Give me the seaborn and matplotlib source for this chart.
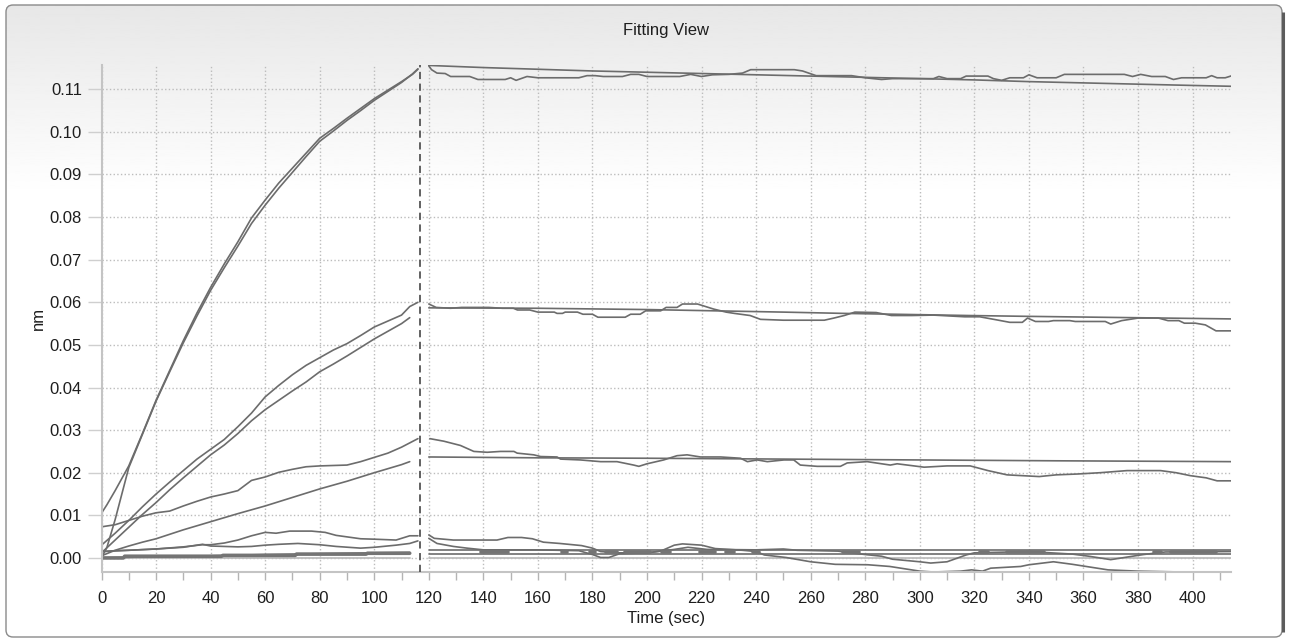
import numpy as np
import pandas as pd
import matplotlib
matplotlib.use("Agg")
import matplotlib.pyplot as plt
import seaborn as sns
from matplotlib.patches import FancyBboxPatch
from matplotlib.ticker import MultipleLocator, FormatStrFormatter

sns.set_theme(style="white")
plt.rcParams["font.family"] = ["Liberation Sans", "DejaVu Sans"]

# ---------------- data ----------------
step_boundary = 116.7  # association / dissociation switch (sec)

# association phase
t_top = [0, 2, 5, 10, 15, 20, 25, 30, 35, 40, 45, 50, 55, 60, 65, 70, 75, 80, 85, 90, 95, 100, 105, 110, 114, 116]
top_fit = [0.0105, 0.0125, 0.0158, 0.0216, 0.0292, 0.0370, 0.0440, 0.0510, 0.0575, 0.0635, 0.0690, 0.0742, 0.0798,
           0.0840, 0.0880, 0.0915, 0.0950, 0.0985, 0.1008, 0.1032, 0.1055, 0.1078, 0.1098, 0.1118, 0.1135, 0.1147]
top_data = [0.0, 0.0025, 0.0090, 0.0212, 0.0290, 0.0368, 0.0437, 0.0505, 0.0568, 0.0628, 0.0681, 0.0732, 0.0785,
            0.0828, 0.0868, 0.0905, 0.0942, 0.0978, 0.1002, 0.1027, 0.1050, 0.1074, 0.1095, 0.1116, 0.1136, 0.1148]

t_mid = [0, 5, 10, 15, 20, 25, 30, 35, 40, 45, 50, 55, 60, 65, 70, 75, 80, 85, 90, 95, 100, 105, 110, 113, 116]
mid_data = [0.0030, 0.0058, 0.0088, 0.0120, 0.0150, 0.0178, 0.0205, 0.0232, 0.0255, 0.0278, 0.0308, 0.0340, 0.0378,
            0.0405, 0.0430, 0.0452, 0.0470, 0.0488, 0.0503, 0.0522, 0.0542, 0.0556, 0.0570, 0.0590, 0.0600]
t_mid_fit = [0, 5, 10, 15, 20, 25, 30, 35, 40, 45, 50, 55, 60, 65, 70, 75, 80, 85, 90, 95, 100, 105, 110, 113]
mid_fit = [0.0012, 0.0042, 0.0072, 0.0102, 0.0130, 0.0160, 0.0188, 0.0215, 0.0242, 0.0265, 0.0292, 0.0322, 0.0348,
           0.0370, 0.0392, 0.0413, 0.0437, 0.0455, 0.0474, 0.0494, 0.0514, 0.0532, 0.0550, 0.0564]

low3_data = [0.0073, 0.0078, 0.0088, 0.0098, 0.0106, 0.0110, 0.0122, 0.0133, 0.0143, 0.0150, 0.0158, 0.0182, 0.0190,
             0.0201, 0.0208, 0.0214, 0.0216, 0.0217, 0.0218, 0.0226, 0.0236, 0.0246, 0.0260, 0.0270, 0.0280]
t_low3_fit = [0, 5, 10, 15, 20, 30, 40, 50, 60, 70, 80, 90, 100, 110, 113]
low3_fit = [0.0005, 0.0018, 0.0028, 0.0037, 0.0045, 0.0066, 0.0085, 0.0104, 0.0122, 0.0142, 0.0162, 0.0180, 0.0200,
            0.0219, 0.0226]

t_c4 = [0, 5, 10, 20, 30, 37, 40, 45, 50, 55, 60, 64, 69, 77, 82, 86, 95, 100, 108, 113, 116]
c4_data = [0.0015, 0.0017, 0.0018, 0.0021, 0.0026, 0.0031, 0.0031, 0.0035, 0.0042, 0.0052, 0.0060, 0.0058, 0.0063,
           0.0063, 0.0060, 0.0053, 0.0045, 0.0044, 0.0042, 0.0052, 0.0052]
t_c5 = [0, 10, 20, 30, 37, 40, 50, 55, 60, 65, 72, 80, 86, 95, 100, 108, 113, 116]
c5_data = [0.0015, 0.0018, 0.0021, 0.0025, 0.0032, 0.0028, 0.0026, 0.0027, 0.0030, 0.0032, 0.0034, 0.0031, 0.0027,
           0.0023, 0.0025, 0.0030, 0.0034, 0.0040]

t_flat_fit = [0, 20, 40, 60, 80, 100, 113]
flat_fit = [0.0, 0.0003, 0.0005, 0.0008, 0.0010, 0.0012, 0.0013]
t_flat_data = [0, 8, 8.5, 44, 44.5, 71, 71.5, 97, 97.5, 113]
flat_data = [0.0, 0.0, 0.0004, 0.0004, 0.0006, 0.0006, 0.0009, 0.0009, 0.0011, 0.0011]
t_zero_a = [0, 113]
zero_a = [0.0, 0.0]

# dissociation phase
t_d1_fit = [120, 140, 160, 180, 200, 220, 240, 260, 280, 300, 320, 340, 360, 380, 400, 414.5]
d1_fit = [0.1156, 0.1151, 0.1147, 0.1143, 0.1140, 0.1137, 0.1134, 0.1131, 0.1128, 0.1125, 0.1122, 0.1118, 0.1115,
          0.1112, 0.1109, 0.1107]
t_d1 = [120, 121, 123, 126, 128, 135, 138, 148, 150, 152, 156, 160, 175, 178, 181, 184, 191, 194, 197, 200, 212, 216,
        220, 224, 230, 235, 238, 254, 257, 262, 275, 280, 286, 290, 305, 307, 310, 315, 317, 325, 327, 330, 333, 338,
        340, 343, 350, 353, 375, 378, 381, 385, 390, 393, 396, 405, 407, 409, 412, 414.5]
d1_data = [0.1155, 0.1146, 0.1138, 0.1137, 0.1130, 0.1130, 0.1123, 0.1123, 0.1127, 0.1121, 0.1130, 0.1127, 0.1127,
           0.1132, 0.1132, 0.1130, 0.1130, 0.1135, 0.1135, 0.1130, 0.1130, 0.1135, 0.1130, 0.1134, 0.1135, 0.1138,
           0.1146, 0.1146, 0.1143, 0.1132, 0.1132, 0.1127, 0.1123, 0.1125, 0.1125, 0.1130, 0.1125, 0.1125, 0.1131,
           0.1131, 0.1125, 0.1121, 0.1127, 0.1127, 0.1134, 0.1127, 0.1127, 0.1135, 0.1135, 0.1130, 0.1135, 0.1130,
           0.1130, 0.1123, 0.1127, 0.1127, 0.1132, 0.1127, 0.1127, 0.1132]

t_d2_fit = [120, 160, 200, 225, 250, 272, 300, 318, 340, 365, 390, 414.5]
d2_fit = [0.0587, 0.0586, 0.0583, 0.0580, 0.0577, 0.0574, 0.0571, 0.0569, 0.0567, 0.0565, 0.0563, 0.0561]
t_d2 = [120, 122.7, 128, 132, 142, 147, 151, 152.5, 157, 160, 166, 167, 169, 170, 174.5, 176.5, 180, 182, 192, 194,
        197.5, 199.5, 205, 207, 211, 213, 218.5, 220.5, 224.5, 229, 232, 237.8, 241.6, 250, 265, 268.5, 272.3, 276.2,
        284, 289.6, 297, 305, 316.5, 322, 328, 333, 337.6, 339.5, 342.4, 347.2, 349, 355, 357, 368, 370, 374, 380,
        387.5, 391, 395, 397, 401, 404.7, 408.6, 414.5]
d2_data = [0.0596, 0.0588, 0.0586, 0.0588, 0.0588, 0.0586, 0.0586, 0.0582, 0.0582, 0.0577, 0.0577, 0.0574, 0.0574,
           0.0577, 0.0577, 0.0572, 0.0572, 0.0565, 0.0565, 0.0572, 0.0572, 0.0580, 0.0580, 0.0588, 0.0588, 0.0596,
           0.0596, 0.0592, 0.0584, 0.0577, 0.0574, 0.0569, 0.0560, 0.0558, 0.0558, 0.0563, 0.0569, 0.0577, 0.0576,
           0.0569, 0.0569, 0.0570, 0.0566, 0.0566, 0.0559, 0.0553, 0.0553, 0.0563, 0.0555, 0.0555, 0.0557, 0.0557,
           0.0555, 0.0555, 0.0549, 0.0557, 0.0563, 0.0563, 0.0557, 0.0557, 0.0551, 0.0551, 0.0547, 0.0533, 0.0533]

t_d3_fit = [120, 160, 200, 250, 300, 350, 414.5]
d3_fit = [0.0237, 0.0235, 0.0234, 0.0232, 0.0230, 0.0228, 0.0226]
t_d3 = [120.4, 125.5, 131.6, 136.5, 141.4, 146.3, 151.2, 152.4, 158.5, 161, 167, 168.3, 175.6, 183, 189, 195.1, 197,
        200, 206.1, 211, 214.7, 219.6, 227, 234.3, 236.8, 240.4, 244.1, 250.2, 253.8, 256.2, 262.4, 270.9, 273.4,
        280.7, 289.2, 291.7, 301.6, 310, 318.5, 325, 332, 343.8, 350, 357.8, 366, 376, 388.3, 394, 399.3, 405, 409,
        414.5]
d3_data = [0.0280, 0.0274, 0.0264, 0.0250, 0.0248, 0.0250, 0.0250, 0.0246, 0.0242, 0.0238, 0.0237, 0.0232, 0.0230,
           0.0226, 0.0226, 0.0218, 0.0215, 0.0221, 0.0230, 0.0240, 0.0242, 0.0237, 0.0237, 0.0234, 0.0226, 0.0230,
           0.0226, 0.0230, 0.0230, 0.0218, 0.0215, 0.0215, 0.0223, 0.0226, 0.0218, 0.0221, 0.0213, 0.0216, 0.0216,
           0.0205, 0.0195, 0.0191, 0.0195, 0.0197, 0.0200, 0.0205, 0.0205, 0.0200, 0.0193, 0.0188, 0.0181, 0.0181]

t_d4 = [120, 122, 129, 145, 149, 154, 158, 162, 168, 176, 180, 183, 190, 200, 205, 210, 213, 220, 225, 235, 240, 243,
        251, 260, 269, 281, 289, 300, 305, 315, 319, 323, 326, 337, 340, 349, 356, 361, 369, 380, 396, 403]
d4_data = [0.0054, 0.0046, 0.0042, 0.0042, 0.0048, 0.0048, 0.0045, 0.0037, 0.0034, 0.0029, 0.0023, 0.0015, 0.0012,
           0.0012, 0.0016, 0.0030, 0.0033, 0.0030, 0.0022, 0.0018, 0.0015, 0.0007, 0.0001, -0.0009, -0.0015, -0.0016,
           -0.0020, -0.0031, -0.0033, -0.0031, -0.0028, -0.0031, -0.0024, -0.0020, -0.0016, -0.0009, -0.0015,
           -0.0020, -0.0028, -0.0031, -0.0033, -0.0034]
t_d5 = [120, 123, 129, 134, 140, 160, 175, 180, 183, 186, 190, 200, 210, 215, 222, 240, 250, 255, 270, 280, 286, 290,
        300, 304, 310, 317, 320, 340, 356, 362, 370, 378, 382, 390, 414.5]
d5_data = [0.0046, 0.0034, 0.0027, 0.0023, 0.0019, 0.0019, 0.0017, 0.0008, 0.0001, 0.0001, 0.0010, 0.0012, 0.0020,
           0.0025, 0.0020, 0.0019, 0.0021, 0.0018, 0.0016, 0.0008, 0.0004, -0.0003, -0.0009, -0.0012, -0.0009, 0.0007,
           0.0012, 0.0015, 0.0009, 0.0004, -0.0004, 0.0004, 0.0008, 0.0014, 0.0015]
t_flat_d = [120, 414.5]
flat_hi_d = [0.0019, 0.0019]
flat_lo_d = [0.0010, 0.0010]
zero_d = [0.0, 0.0]
noise_start = [139, 169, 179, 185, 192, 205.5, 219.6, 229, 239, 272, 322, 332, 386, 392]
noise_end = [149, 170.5, 181, 189, 201, 208.6, 225, 232, 241, 277.6, 325, 345.4, 388.4, 408.5]
noise_level = 0.00145

# ---------------- tables ----------------
def frame(name, t, v):
    return pd.DataFrame({"t": t, "v": v, "curve": name})

thin = pd.concat([
    frame("top_fit", t_top, top_fit), frame("top_data", t_top, top_data),
    frame("mid_data", t_mid, mid_data), frame("mid_fit", t_mid_fit, mid_fit),
    frame("low3_data", t_mid, low3_data), frame("low3_fit", t_low3_fit, low3_fit),
    frame("c4", t_c4, c4_data), frame("c5", t_c5, c5_data),
    frame("flat_fit", t_flat_fit, flat_fit),
    frame("d1_fit", t_d1_fit, d1_fit), frame("d1", t_d1, d1_data),
    frame("d2_fit", t_d2_fit, d2_fit), frame("d2", t_d2, d2_data),
    frame("d3_fit", t_d3_fit, d3_fit), frame("d3", t_d3, d3_data),
    frame("d4", t_d4, d4_data), frame("d5", t_d5, d5_data),
    frame("fhi", t_flat_d, flat_hi_d), frame("flo", t_flat_d, flat_lo_d),
], ignore_index=True)
thick = pd.concat([frame("flat_data", t_flat_data, flat_data)] +
                  [frame(f"nb{i}", [s, e], [noise_level, noise_level])
                   for i, (s, e) in enumerate(zip(noise_start, noise_end))], ignore_index=True)
zeros = pd.concat([frame("z_a", t_zero_a, zero_a), frame("z_d", t_flat_d, zero_d)], ignore_index=True)

# ---------------- figure ----------------
W, H = 1291, 644
fig = plt.figure(figsize=(W / 100, H / 100), dpi=100)
fig.patch.set_facecolor("white")

bg = fig.add_axes([0, 0, 1, 1], zorder=0)
bg.set_xlim(0, W)
bg.set_ylim(H, 0)
bg.axis("off")
box = FancyBboxPatch((6, 5), 1276, 632, boxstyle="round,pad=0,rounding_size=7",
                     facecolor="none", edgecolor="#8a8a8a", lw=1.0, transform=bg.transData, zorder=3)
rows = np.linspace(5, 637, 400)
shade = 1.0 - 0.095 * np.clip(1 - (rows - 5) / 190.0, 0, 1)
im = bg.imshow(shade[:, None], extent=(6, 1282, 637, 5), cmap="gray", vmin=0, vmax=1,
               aspect="auto", interpolation="bilinear", zorder=1)
im.set_clip_path(box)
bg.add_patch(box)
bg.plot([1283.2, 1283.2], [12, 632], color="#5c5c5c", lw=2.2, solid_capstyle="butt", zorder=4)

L, R, T, B = 101.5, 1231, 65, 572
ax = fig.add_axes([L / W, 1 - B / H, (R - L) / W, (B - T) / H], zorder=2)
ax.set_facecolor("none")

LINE = "#6c6c6c"
sns.lineplot(data=zeros, x="t", y="v", units="curve", estimator=None, sort=False,
             color="#bdbdbd", lw=1.3, ax=ax, legend=False)
sns.lineplot(data=thin, x="t", y="v", units="curve", estimator=None, sort=False,
             color=LINE, lw=1.2, ax=ax, legend=False)
sns.lineplot(data=thick, x="t", y="v", units="curve", estimator=None, sort=False,
             color="#747474", lw=2.6, ax=ax, legend=False)
ax.axvline(step_boundary, color="#555555", lw=1.3, ls=(0, (4, 2.5)), zorder=5)

ax.set_xlim(0, 414.1)
ax.set_ylim(-0.0033, 0.1157)
ax.xaxis.set_major_locator(MultipleLocator(20))
ax.xaxis.set_minor_locator(MultipleLocator(10))
ax.yaxis.set_major_locator(MultipleLocator(0.01))
ax.yaxis.set_major_formatter(FormatStrFormatter("%.2f"))
ax.grid(True, which="major", ls=":", color="#bcbcbc", lw=1.0)
ax.set_axisbelow(True)

for s in ["top", "right"]:
    ax.spines[s].set_visible(False)
for s in ["left", "bottom"]:
    ax.spines[s].set_color("#c4c4c4")
    ax.spines[s].set_linewidth(1.5)

TXT = "#1e1e1e"
ax.tick_params(axis="x", which="both", direction="out", length=6, width=1, color="#b4b4b4",
               labelsize=12, labelcolor=TXT, pad=8, bottom=True)
ax.tick_params(axis="y", which="major", direction="out", length=10, width=1, color="#cfcfcf",
               labelsize=12, labelcolor=TXT, pad=4, left=True)

ax.set_xlabel("Time (sec)", fontsize=12, color=TXT)
ax.set_ylabel("nm", fontsize=12, color=TXT)
ax.xaxis.set_label_coords(0.5, -0.077)
ax.yaxis.set_label_coords(-0.049, 0.5)

fig.text(666 / W, 1 - 30 / H, "Fitting View", ha="center", va="center", fontsize=12, color=TXT)

fig.savefig("out.png", dpi=100)
